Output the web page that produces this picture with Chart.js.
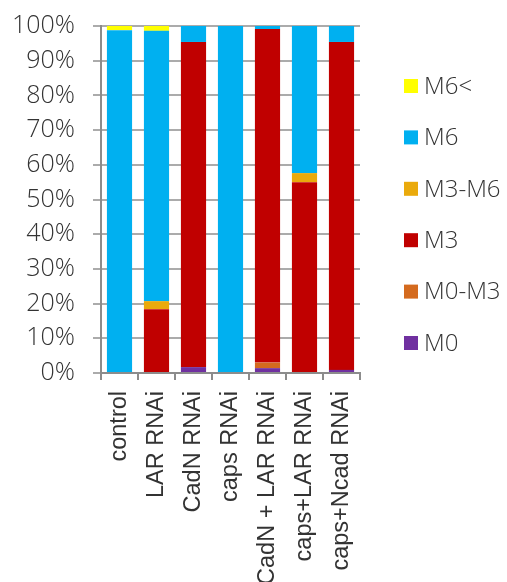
<!DOCTYPE HTML>
<html>
<head>
<title>Muscle stage distribution</title>
<script src="https://cdn.jsdelivr.net/npm/chart.js@4.4.1/dist/chart.umd.min.js"></script>
<style>
  body { margin: 0; background: #fff; }
  #wrap { width: 507px; height: 582px; }
</style>
</head>
<body>
<div id="wrap"><canvas id="myChart"></canvas></div>
<script>
  // categories (x axis)
  const labels = ['control', 'LAR RNAi', 'CadN RNAi', 'caps RNAi', 'CadN + LAR RNAi', 'caps+LAR RNAi', 'caps+Ncad RNAi'];

  // percent of each class, bottom of the stack first
  const m0   = [0,    0,    1.7,  0,    1.4,  0,    0.9];
  const m0m3 = [0,    0,    0,    0,    1.6,  0,    0];
  const m3   = [0,    18.4, 93.7, 0,    96.1, 55.0, 94.5];
  const m3m6 = [0,    2.3,  0,    0,    0,    2.6,  0];
  const m6   = [98.8, 77.9, 4.6,  100,  0.9,  42.4, 4.6];
  const m6up = [1.2,  1.4,  0,    0,    0,    0,    0];

  const yTicks = [0, 10, 20, 30, 40, 50, 60, 70, 80, 90, 100];

  const gridCol = '#ababab';
  const axisCol = '#8c8c8c';
  const textCol = '#333333';

  const data = {
    labels: labels,
    datasets: [
      { label: 'M0',    data: m0,   backgroundColor: '#7030A0' },
      { label: 'M0-M3', data: m0m3, backgroundColor: '#D46A1E' },
      { label: 'M3',    data: m3,   backgroundColor: '#C00000' },
      { label: 'M3-M6', data: m3m6, backgroundColor: '#EAAA0C' },
      { label: 'M6',    data: m6,   backgroundColor: '#00B0F0' },
      { label: 'M6<',   data: m6up, backgroundColor: '#FFFF00' }
    ]
  };

  // legend on the right, drawn top to bottom in reverse stack order
  const sideLegend = {
    id: 'sideLegend',
    afterDraw(chart) {
      const ctx = chart.ctx;
      const area = chart.chartArea;
      const sets = chart.data.datasets.slice().reverse();
      ctx.save();
      ctx.font = '300 24px "Open Sans"';
      ctx.textBaseline = 'middle';
      for (var i = 0; i < sets.length; i++) {
        var y = area.top + 60 + i * 51.4;
        var x = area.right + 44;
        ctx.fillStyle = sets[i].backgroundColor;
        ctx.fillRect(x, y - 7, 14, 14);
        ctx.fillStyle = textCol;
        ctx.fillText(sets[i].label, x + 20, y + 1);
      }
      ctx.restore();
    }
  };

  const config = {
    type: 'bar',
    data: data,
    plugins: [sideLegend],
    options: {
      responsive: true,
      maintainAspectRatio: false,
      animation: false,
      layout: { padding: { top: 26, right: 147, left: 0, bottom: 0 } },
      datasets: { bar: { categoryPercentage: 1, barPercentage: 0.68 } },
      plugins: {
        legend: { display: false },
        tooltip: { enabled: false }
      },
      scales: {
        x: {
          stacked: true,
          afterFit: function(axis) { axis.height = 209; axis.paddingLeft = 0; axis.paddingRight = 0; },
          border: { display: true, color: axisCol, width: 2 },
          grid: { display: true, drawOnChartArea: false, drawTicks: true, tickLength: 7, offset: true, color: axisCol, lineWidth: 2 },
          ticks: {
            autoSkip: false,
            minRotation: 90,
            maxRotation: 90,
            padding: 11,
            color: textCol,
            font: { family: '"Liberation Sans", Arial, sans-serif', size: 23.5 }
          }
        },
        y: {
          stacked: true,
          min: 0,
          max: 100,
          afterFit: function(axis) { axis.width = 101; axis.paddingTop = 0; axis.paddingBottom = 0; },
          afterBuildTicks: function(axis) { axis.ticks = yTicks.map(v => ({ value: v })); },
          border: { display: true, color: axisCol, width: 2 },
          grid: { color: gridCol, lineWidth: 2, tickLength: 8, drawTicks: true },
          ticks: {
            padding: 18,
            color: textCol,
            font: { family: '"Open Sans"', size: 25, weight: 300 },
            callback: function(v) { return v + '%'; }
          }
        }
      }
    }
  };

  const myChart = new Chart(document.getElementById('myChart'), config);
</script>
</body>
</html>
